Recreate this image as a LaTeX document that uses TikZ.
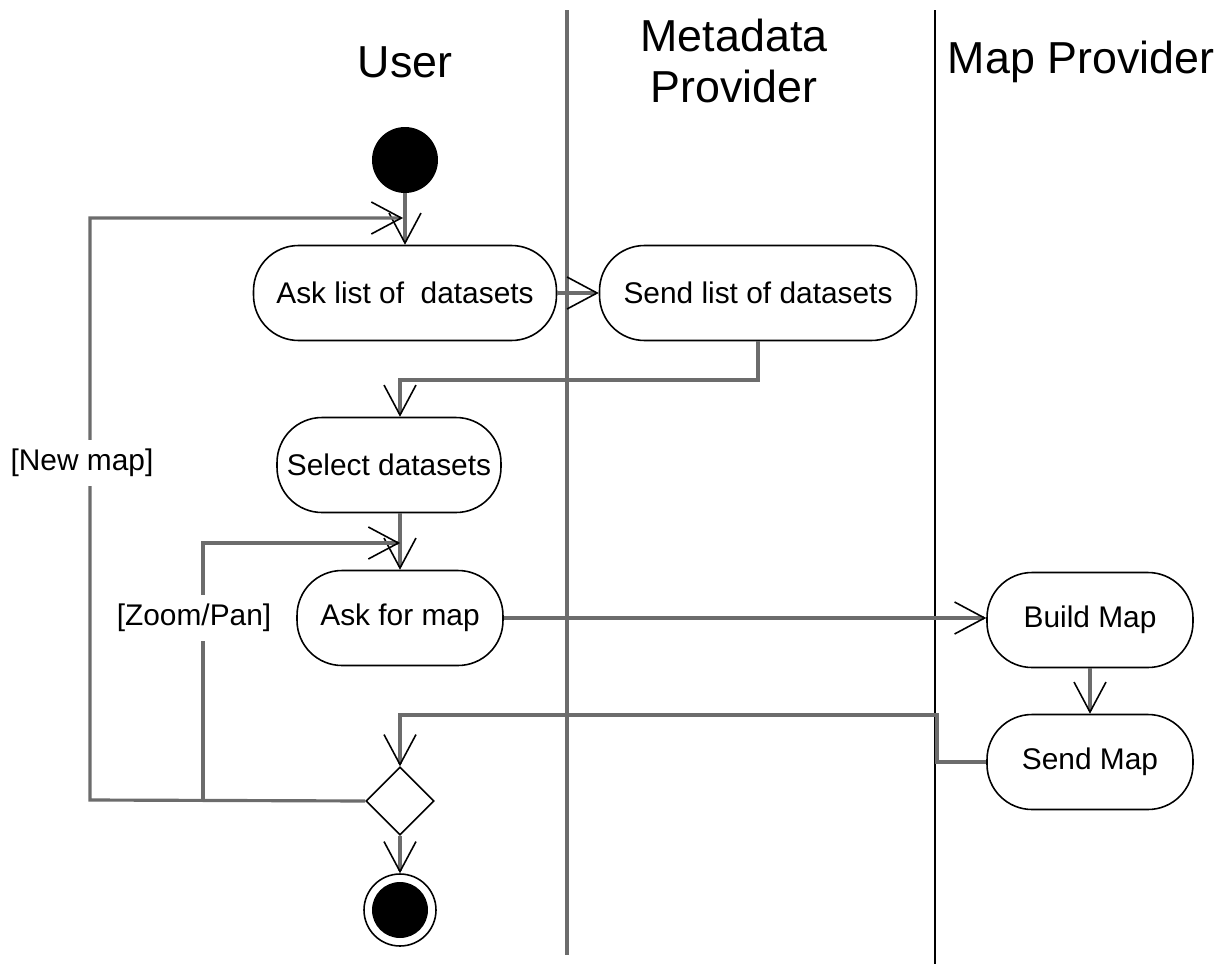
\documentclass[tikz,border=0pt]{standalone}
\usepackage{fontspec}
\setmainfont{Liberation Sans}
\usetikzlibrary{arrows.meta,shapes.geometric,calc}
\begin{document}
\begin{tikzpicture}[x=0.02cm,y=-0.02cm,
 act/.style={draw=black, line width=0.9pt, rounded corners=0.9cm, minimum height=1.9cm, inner sep=0pt, font=\fontsize{17}{20}\selectfont},
 flow/.style={draw=gray!85!black, line width=1.8pt, -{Straight Barb[length=0.6cm,width=0.64cm,line width=0.9pt,color=black]}},
 lbl/.style={font=\fontsize{17}{20}\selectfont, fill=white, inner xsep=0pt, inner ysep=5pt},
 lanetitle/.style={font=\fontsize{25.5}{29.5}\selectfont, align=center, inner sep=0pt}]
\useasboundingbox (0,0) rectangle (1225,964);
% swimlane separators
\coordinate (l1t) at (567,10); \coordinate (l1b) at (567,955);
\coordinate (l2t) at (935,10); \coordinate (l2b) at (935,964);
\draw[gray!85!black, line width=2.4pt] (l1t) -- (l1b);
\draw[black, line width=0.8pt] (l2t) -- (l2b);
% titles
\node[lanetitle] (tuser) at (405,62) {User};
\node[lanetitle] (tmeta) at (734,61) {Metadata\\Provider};
\node[lanetitle] (tmap) at (1081,62) {Map Provider};
% nodes
\node[circle, fill=black, minimum size=1.32cm, inner sep=0pt] (init) at (405,160) {};
\node[act, minimum width=6.06cm] (ask) at (405,293) {Ask list of\ \ datasets};
\node[act, minimum width=6.34cm] (send) at (758,293) {Send list of datasets};
\node[act, minimum width=4.48cm] (select) at (389,465) {Select datasets};
\node[act, minimum width=4.12cm] (askmap) at (400,618) {Ask for map};
\node[act, minimum width=4.12cm] (build) at (1090,620) {Build Map};
\node[act, minimum width=4.12cm] (sendmap) at (1090,762) {Send Map};
\node[diamond, draw=black, line width=0.9pt, minimum width=1.36cm, minimum height=1.36cm, inner sep=0pt] (dec) at (400,801) {};
\node[circle, draw=black, line width=0.9pt, minimum size=1.44cm, inner sep=0pt,
  path picture={\fill[black] (path picture bounding box.center) circle (0.56cm);}] (final) at (400,910) {};
% helper coordinates
\coordinate (c1) at (758,380); \coordinate (c2) at (400,380);
\coordinate (c3) at (937,762); \coordinate (c4) at (937,715); \coordinate (c5) at (400,715);
\coordinate (c6) at (90,800); \coordinate (c7) at (90,218); \coordinate (c8) at (403,218);
\coordinate (c9) at (203,800); \coordinate (c10) at (203,543); \coordinate (c11) at (400,543);
% connectors
\draw[flow] (init) -- (ask);
\draw[flow] (ask) -- (send);
\draw[flow] (send.south) -- (c1) -- (c2) -- (c2 |- select.north);
\draw[flow] (askmap.north |- select.south) -- (askmap.north);
\draw[flow] (askmap.east) -- (askmap.east -| build.west);
\draw[flow] (build) -- (sendmap);
\draw[flow] (sendmap.west) -- (c3) -- (c4) -- (c5) -- (dec.north);
\draw[flow] (dec) -- (final);
\draw[flow] (dec.west) -- (c6) -- (c7) -- (c8);
\draw[flow] (c9) -- (c10) -- (c11);
% guard labels (drawn over the lines)
\node[lbl] (lnew) at (82,463) {[New map]};
\node[lbl] (lzoom) at (194,618) {[Zoom/Pan]};
\end{tikzpicture}
\end{document}
